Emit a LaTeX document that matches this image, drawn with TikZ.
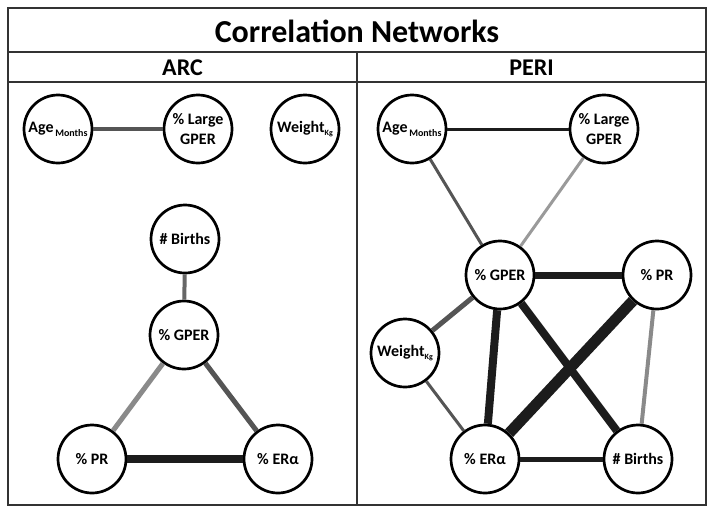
\documentclass[tikz,border=0pt]{standalone}
\usepackage{fontspec}
\setmainfont{Carlito}
\usetikzlibrary{positioning}
\tikzset{netnode/.style={circle, draw=black, line width=2.7pt, fill=white, minimum size=68pt, inner sep=0pt, align=center, font=\bfseries\fontsize{16}{20}\selectfont}}
\tikzset{lnk/.style 2 args={draw=#1, line width=#2}}
\tikzset{framel/.style={draw=black!80, line width=1.5pt}}
\tikzset{headtxt/.style={font=\bfseries\fontsize{24}{26}\selectfont, inner sep=0pt}}
\newcommand{\subtxt}[1]{\raisebox{-0.5ex}{\fontsize{10}{10}\selectfont\,#1}}
\newcommand{\subkg}[1]{\raisebox{-0.5ex}{\fontsize{8}{8}\selectfont #1}}
\definecolor{edgeblk}{HTML}{1C1C1C}
\definecolor{edgedrk}{HTML}{555555}
\definecolor{edgemid}{HTML}{666666}
\definecolor{edgelgt}{HTML}{8A8A8A}
\definecolor{edgepal}{HTML}{9A9A9A}

\begin{document}
\begin{tikzpicture}[x=1pt, y=-1pt]
    \useasboundingbox (0,0) rectangle (714,515);
    % frame
    \draw[framel] (8,8) rectangle (706,505);
    \draw[framel] (8,52) -- (706,52);
    \draw[framel] (8,82) -- (706,82);
    \draw[framel] (357,52) -- (357,505);
    \node[font=\bfseries\fontsize{32}{34}\selectfont, inner sep=0pt] (title) at (357,31) {Correlation Networks};
    \node[headtxt] (arc) at (182.5,68) {ARC};
    \node[headtxt] (peri) at (531.5,68) {PERI};

    % ARC
    \node[netnode] (ageA) at (58,129) {Age\subtxt{Months}};
    \node[netnode] (lgA) at (198,129) {\% Large\\GPER};
    \node[netnode] (wtA) at (305,129) {Weight\subkg{Kg}};
    \node[netnode] (biA) at (185,239) {\# Births};
    \node[netnode] (gpA) at (184,335) {\% GPER};
    \node[netnode] (prA) at (92,459) {\% PR};
    \node[netnode] (erA) at (278,459) {\% ERα};
    \draw[lnk={edgedrk}{4pt}] (ageA) -- (lgA);
    \draw[lnk={edgemid}{4pt}] (biA) -- (gpA);
    \draw[lnk={edgelgt}{5pt}] (gpA) -- (prA);
    \draw[lnk={edgedrk}{5pt}] (gpA) -- (erA);
    \draw[lnk={edgeblk}{8pt}] (prA) -- (erA);

    % PERI
    \node[netnode] (ageP) at (412,129) {Age\subtxt{Months}};
    \node[netnode] (lgP) at (604,129) {\% Large\\GPER};
    \node[netnode] (gpP) at (500,275) {\% GPER};
    \node[netnode] (prP) at (657,275) {\% PR};
    \node[netnode] (wtP) at (405,353) {Weight\subkg{Kg}};
    \node[netnode] (erP) at (485,459) {\% ERα};
    \node[netnode] (biP) at (638,459) {\# Births};
    \draw[lnk={edgeblk}{3pt}] (ageP) -- (lgP);
    \draw[lnk={edgedrk}{3pt}] (ageP) -- (gpP);
    \draw[lnk={edgepal}{3pt}] (lgP) -- (gpP);
    \draw[lnk={edgeblk}{7pt}] (gpP) -- (prP);
    \draw[lnk={edgedrk}{5pt}] (gpP) -- (wtP);
    \draw[lnk={edgeblk}{8pt}] (gpP) -- (erP);
    \draw[lnk={edgeblk}{8pt}] (gpP) -- (biP);
    \draw[lnk={edgeblk}{11pt}] (prP) -- (erP);
    \draw[lnk={edgelgt}{4pt}] (prP) -- (biP);
    \draw[lnk={edgedrk}{3pt}] (wtP) -- (erP);
    \draw[lnk={edgeblk}{5pt}] (erP) -- (biP);
\end{tikzpicture}
\end{document}
